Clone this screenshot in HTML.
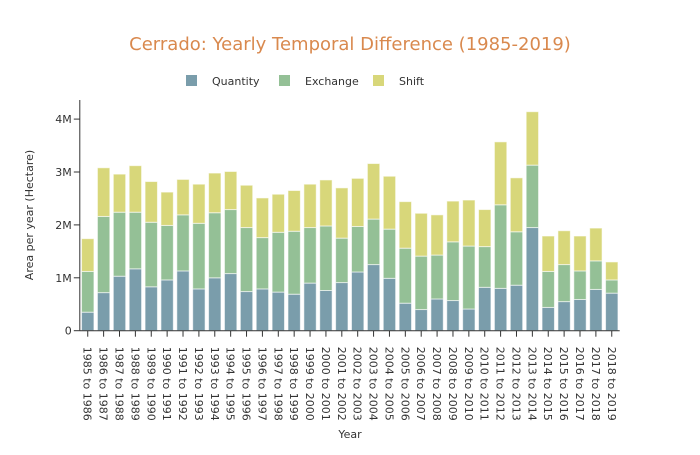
<!DOCTYPE html>
<html><head><meta charset="utf-8"><style>
body{margin:0;background:#fff}
svg text{font-family:"DejaVu Sans","Liberation Sans",sans-serif}
</style></head><body>
<svg id="c" width="700" height="450">
<text x="350" y="50" text-anchor="middle" font-size="18" fill="#d9894e">Cerrado: Yearly Temporal Difference (1985-2019)</text>
<g>
<rect x="186" y="75" width="11" height="11" fill="#7a9dab"/>
<text x="212" y="85" font-size="11" fill="#333">Quantity</text>
<rect x="279" y="75" width="11" height="11" fill="#94c096"/>
<text x="305" y="85" font-size="11" fill="#333">Exchange</text>
<rect x="373" y="75" width="11" height="11" fill="#d8d77a"/>
<text x="399" y="85" font-size="11" fill="#333">Shift</text>
</g>
<text transform="translate(33,215) rotate(-90)" text-anchor="middle" font-size="11" fill="#333">Area per year (Hectare)</text>
<text x="350" y="438" text-anchor="middle" font-size="11" fill="#333">Year</text>
<g id="bars"></g><g id="axes"></g>
</svg>
<script>
const categories=[];for(let y=1985;y<2019;y++)categories.push(y+" to "+(y+1));
const quantity=[.35,.72,1.03,1.17,.83,.96,1.13,.79,1.0,1.08,.74,.79,.73,.69,.9,.76,.91,1.11,1.25,.99,.52,.40,.60,.57,.41,.82,.80,.86,1.95,.44,.55,.59,.78,.71];
const exchange=[.77,1.44,1.21,1.07,1.22,1.03,1.06,1.24,1.23,1.21,1.21,.97,1.13,1.19,1.05,1.22,.84,.86,.86,.93,1.04,1.01,.83,1.11,1.19,.77,1.58,1.01,1.18,.68,.70,.54,.54,.25];
const shift=[.62,.92,.72,.88,.77,.63,.67,.74,.75,.72,.80,.75,.72,.77,.82,.87,.95,.91,1.05,1.0,.88,.81,.76,.77,.87,.70,1.19,1.02,1.01,.67,.64,.66,.62,.34];
const yTicks=[0,1,2,3,4];
const yTickLabels=["0","1M","2M","3M","4M"];
const NS="http://www.w3.org/2000/svg";
const x0=79.8,x1=619.7,y0=330.7,pxPerM=52.9;
const band=(x1-x0)/categories.length,bw=band*0.78;
const xs=i=>x0+band*i+band/2;
const ys=v=>y0-v*pxPerM;
function mk(t,a,p){const e=document.createElementNS(NS,t);for(const k in a)e.setAttribute(k,a[k]);p.appendChild(e);return e;}
const bars=document.getElementById('bars'),axes=document.getElementById('axes');
const series=[["quantity",quantity,"#7a9dab"],["exchange",exchange,"#94c096"],["shift",shift,"#d8d77a"]];
categories.forEach((c,i)=>{let base=0;series.forEach(([n,arr,col])=>{const v=arr[i];
const r=mk('rect',{x:xs(i)-bw/2,y:ys(base+v),width:bw,height:v*pxPerM,fill:col,stroke:"#fff","stroke-opacity":0.6,"stroke-width":1},bars);


base+=v;});
const tk=mk('line',{x1:xs(i),x2:xs(i),y1:y0,y2:y0+6,stroke:"#333"},axes);


const t=mk('text',{transform:`translate(${xs(i)-4},${y0+16}) rotate(90)`,"font-size":11,fill:"#333"},axes);t.textContent=c;


});
const xa=mk('line',{x1:x0,x2:x1,y1:y0,y2:y0,stroke:"#333"},axes);


const ya=mk('line',{x1:x0,x2:x0,y1:100,y2:y0,stroke:"#333"},axes);


yTicks.forEach((v,i)=>{const l=mk('line',{x1:x0-6,x2:x0,y1:ys(v),y2:ys(v),stroke:"#333"},axes);


const t=mk('text',{x:x0-8,y:ys(v)+4,"text-anchor":"end","font-size":11,fill:"#333"},axes);t.textContent=yTickLabels[i];

});
</script>
</body></html>
